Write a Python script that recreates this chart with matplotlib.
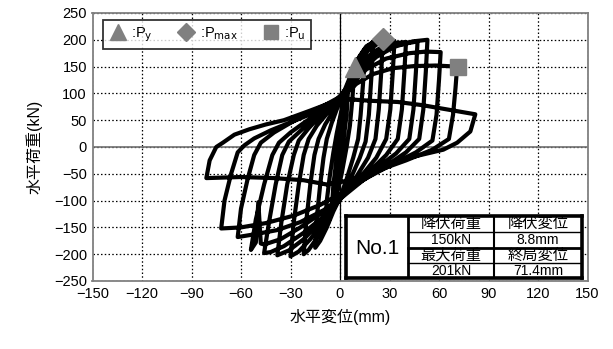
import matplotlib
matplotlib.use("Agg")
import matplotlib.pyplot as plt
from matplotlib.lines import Line2D

plt.rcParams['font.family'] = ['Liberation Sans', 'Noto Sans CJK JP', 'DejaVu Sans']

# ---- data: hysteresis trace (displacement mm, load kN) ----
trace_x = [
    0, 1, 2, 3,
    2, 0.5, -1, -2, -3,
    -2, -0.5, 1, 2.5, 4, 5,
    4, 2, 0, -2, -4, -5,
    -4, -2, 0, 2, 4, 6, 7.5, 8.8,
    7.5, 6, 4, 1, -2, -5, -7, -9,
    -8, -6, -4, -2, 0, 2, 5, 8, 11, 15,
    14, 12.5, 11, 8, 4, 0, -4, -8, -12, -15,
    -14, -12, -10, -8, -5, -2, 1, 4, 8, 12, 16, 20,
    19, 17.5, 15.5, 12, 7, 2, -2, -8, -14, -19, -22,
    -20.5, -18, -15.5, -13, -9, -5, -1, 3, 7, 11, 15, 20, 26,
    25, 23.5, 21.5, 17, 10, 3, -2, -10, -18, -25, -30,
    -28, -25, -22, -19, -14, -8, -3, 2, 6, 11, 17, 24, 33,
    32, 30.5, 28, 22, 14, 5, -2, -12, -22, -31, -38,
    -35.5, -32, -28, -25, -19, -12, -5, 1, 6, 12, 20, 29, 40,
    39, 37.5, 35, 28, 18, 8, 0, -10, -22, -34, -42, -46,
    -43, -39, -35, -31, -24, -16, -8, 0, 5, 12, 21, 31, 47,
    46, 44.5, 42, 34, 22, 10, 0, -12, -24, -36, -46, -48, -49.5, -51, -54,
    -51, -46, -41, -37, -30, -21, -11, -2, 4, 12, 22, 33, 44, 53,
    52, 50.5, 48, 40, 28, 14, 2, -10, -24, -38, -52, -62,
    -60, -56, -52, -48, -40, -30, -19, -8, 2, 8, 16, 28, 42, 52, 61,
    60, 58.5, 56, 46, 32, 16, 2, -12, -28, -45, -60, -72,
    -70, -66, -62, -58, -52, -42, -30, -18, -6, 2, 10, 20, 32, 45, 58, 71,
    70, 68.5, 66, 56, 40, 22, 6, -8, -22, -40, -60, -81,
    -79, -75, -71, -64, -55, -45, -34, -18, -6, 0, 10, 20, 35, 50, 65, 82,
    79, 71, 62.6, 42, 24, 12, 5,
]
trace_y = [
    0, 40, 70, 85,
    40, 0, -35, -65, -85,
    -40, 0, 40, 80, 105, 115,
    60, 10, -30, -70, -100, -118,
    -70, -20, 25, 65, 100, 125, 140, 150,
    90, 40, 0, -50, -90, -120, -140, -150,
    -100, -50, -10, 25, 55, 85, 115, 145, 165, 180,
    120, 60, 15, -20, -60, -95, -120, -150, -175, -188,
    -130, -70, -20, 15, 45, 70, 92, 115, 145, 170, 188, 195,
    130, 60, 10, -20, -55, -85, -105, -140, -170, -192, -200,
    -140, -70, -15, 15, 42, 62, 82, 100, 135, 163, 183, 196, 201,
    140, 70, 15, -20, -55, -85, -105, -140, -172, -195, -204,
    -140, -70, -15, 15, 40, 62, 80, 97, 125, 155, 180, 195, 198,
    140, 70, 15, -20, -50, -80, -105, -140, -172, -193, -202,
    -140, -70, -15, 12, 35, 58, 78, 95, 122, 152, 177, 192, 196,
    140, 70, 15, -15, -45, -72, -98, -130, -160, -185, -196, -198,
    -140, -70, -15, 10, 30, 52, 72, 92, 115, 145, 170, 188, 197,
    140, 70, 15, -12, -40, -68, -95, -125, -150, -172, -182, -180, -103, -178, -192,
    -135, -70, -15, 8, 27, 47, 67, 88, 110, 140, 168, 187, 197, 200,
    140, 70, 15, -10, -35, -62, -92, -118, -140, -155, -163, -168,
    -115, -60, -15, 8, 27, 45, 63, 80, 97, 120, 145, 165, 175, 178, 177,
    125, 60, 12, -10, -32, -58, -85, -108, -128, -142, -150, -152,
    -100, -50, -10, 3, 16, 31, 46, 61, 78, 95, 118, 136, 147, 151, 152, 150,
    110, 60, 15, -5, -25, -45, -62, -70, -62, -58, -56, -58,
    -25, 0, 8, 23, 33, 42, 50, 68, 82, 90, 88, 86, 84, 78, 70, 61,
    29, 8, -5, -20, -36, -61, -75,
]

# characteristic points
py_pt = (8.8, 150)
pmax_pt = (26, 201)
pu_pt = (71.4, 150)

x_ticks = [-150, -120, -90, -60, -30, 0, 30, 60, 90, 120, 150]
y_ticks = [-250, -200, -150, -100, -50, 0, 50, 100, 150, 200, 250]

table_rows = [["降伏荷重", "降伏変位"], ["150kN", "8.8mm"], ["最大荷重", "終局変位"], ["201kN", "71.4mm"]]
specimen = "No.1"

W, H = 613, 349
fig = plt.figure(figsize=(W / 100, H / 100), dpi=100)
L, R, T, B = 92.5, 587.5, 13, 281
ax = fig.add_axes([L / W, 1 - B / H, (R - L) / W, (B - T) / H])

ax.set_xlim(-150, 150)
ax.set_ylim(-250, 250)
ax.set_xticks(x_ticks)
ax.set_yticks(y_ticks)
ax.set_xticklabels([str(v).replace('-', '\u2212') for v in x_ticks])
ax.set_yticklabels([str(v).replace('-', '\u2212') for v in y_ticks])
ax.tick_params(length=0, labelsize=10.5, pad=4)
ax.grid(True, color='black', linestyle=(0, (1.2, 1.8)), linewidth=0.9)
ax.set_axisbelow(True)
for s in ax.spines.values():
    s.set_color('#808080')
    s.set_linewidth(1.3)
ax.axhline(0, color='#707070', lw=1.2, zorder=1.5)
ax.axvline(0, color='black', lw=0.9, zorder=1.5)

ax.plot(trace_x, trace_y, color='black', lw=3.0, solid_joinstyle='round', solid_capstyle='round', zorder=3)

gray = '#808080'
ax.plot(*py_pt, marker='^', ms=14, color=gray, zorder=5, ls='none')
ax.plot(*pmax_pt, marker='D', ms=11, color=gray, zorder=5, ls='none')
ax.plot(*pu_pt, marker='s', ms=12, color=gray, zorder=5, ls='none')

ax.set_xlabel('水平変位(mm)', fontsize=11.5, labelpad=6)
ax.set_ylabel('水平荷重(kN)', fontsize=11.5, labelpad=8)

handles = [Line2D([], [], marker='^', ms=11, color=gray, ls='none'),
           Line2D([], [], marker='D', ms=9, color=gray, ls='none'),
           Line2D([], [], marker='s', ms=10, color=gray, ls='none')]
labels = [':P$_{\\mathrm{y}}$', ':P$_{\\mathrm{max}}$', ':P$_{\\mathrm{u}}$']
leg = ax.legend(handles, labels, loc='upper left', bbox_to_anchor=((103 - L) / (R - L), (B - 20) / (B - T)),
                ncol=3, fontsize=10.5, frameon=True, fancybox=False, borderpad=0.35,
                handletextpad=0.3, columnspacing=1.6, handlelength=1.3, borderaxespad=0)
leg.get_frame().set_edgecolor('black')
leg.get_frame().set_linewidth(1.3)

# table
tx0, tx1, ty0, ty1 = 346, 582, 216, 278
tax = fig.add_axes([tx0 / W, 1 - ty1 / H, (tx1 - tx0) / W, (ty1 - ty0) / H])
tax.set_xlim(tx0, tx1)
tax.set_ylim(ty1, ty0)
tax.set_facecolor('white')
for s in tax.spines.values():
    s.set_linewidth(2.6)
    s.set_color('black')
tax.set_xticks([])
tax.set_yticks([])
c1, c2 = 408, 494
rows_y = [216, 231.5, 247.5, 263, 278]
tax.plot([c1, c1], [ty0, ty1], color='black', lw=2.0)
tax.plot([c2, c2], [ty0, ty1], color='black', lw=1.5)
for i, yy in enumerate(rows_y[1:-1]):
    tax.plot([c1, tx1], [yy, yy], color='black', lw=2.0 if i == 1 else 1.0)
tax.text((tx0 + c1) / 2, (ty0 + ty1) / 2 + 1, specimen, ha='center', va='center', fontsize=15)
for i, row in enumerate(table_rows):
    ym = (rows_y[i] + rows_y[i + 1]) / 2
    fs = 11 if i % 2 == 0 else 10
    tax.text((c1 + c2) / 2, ym + 0.5, row[0], ha='center', va='center', fontsize=fs)
    tax.text((c2 + tx1) / 2, ym + 0.5, row[1], ha='center', va='center', fontsize=fs)

fig.savefig('out.png', dpi=100)
